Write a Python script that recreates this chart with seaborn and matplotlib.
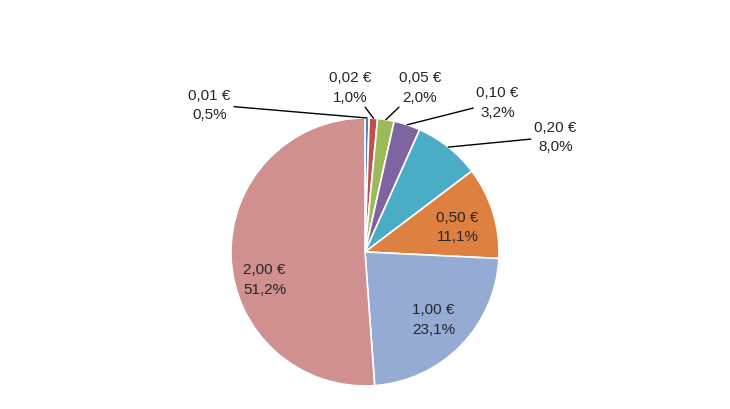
import numpy as np
import matplotlib.pyplot as plt
import seaborn as sns

coins = ['0,01 €', '0,02 €', '0,05 €', '0,10 €', '0,20 €', '0,50 €', '1,00 €', '2,00 €']
shares = [0.5, 1.0, 2.0, 3.2, 8.0, 11.1, 23.1, 51.2]
colors = ['#4F81BD', '#C0504D', '#9BBB59', '#8064A2', '#4BACC6', '#DD8040', '#95ABD4', '#D09090']
# label placement (pie radius units), outside labels get a leader line
label_pos = [(-1.16, 1.10), (-0.11, 1.23), (0.41, 1.23), (0.99, 1.12), (1.42, 0.86),
             (0.69, 0.19), (0.51, -0.50), (-0.75, -0.20)]
outside = [True, True, True, True, True, False, False, False]

sns.set_theme(style='white')
plt.rcParams['font.family'] = ['Liberation Sans', 'DejaVu Sans']

fig = plt.figure(figsize=(7.3, 4.1), dpi=100)
ax = fig.add_axes([0, 0, 1, 1])
wedges, _ = ax.pie(shares, colors=colors, startangle=90, counterclock=False,
                   wedgeprops=dict(edgecolor='white', linewidth=1.2))

for w, c, s, pos, out in zip(wedges, coins, shares, label_pos, outside):
    txt = f'{c}\n{s:.1f}%'.replace('.', ',')
    if out:
        ang = np.deg2rad((w.theta1 + w.theta2) / 2)
        ax.annotate(txt, xy=(np.cos(ang), np.sin(ang)), xytext=pos, ha='center', va='center',
                    fontsize=11, linespacing=1.5,
                    arrowprops=dict(arrowstyle='-', color='black', lw=1, shrinkA=0, shrinkB=0))
    else:
        ax.text(pos[0], pos[1], txt, ha='center', va='center', fontsize=11, linespacing=1.5)

ax.set_aspect('auto')
ax.set_xlim(-2.724, 2.724)
ax.set_ylim(-1.172, 1.888)
ax.axis('off')
fig.savefig('out.png', dpi=100)
